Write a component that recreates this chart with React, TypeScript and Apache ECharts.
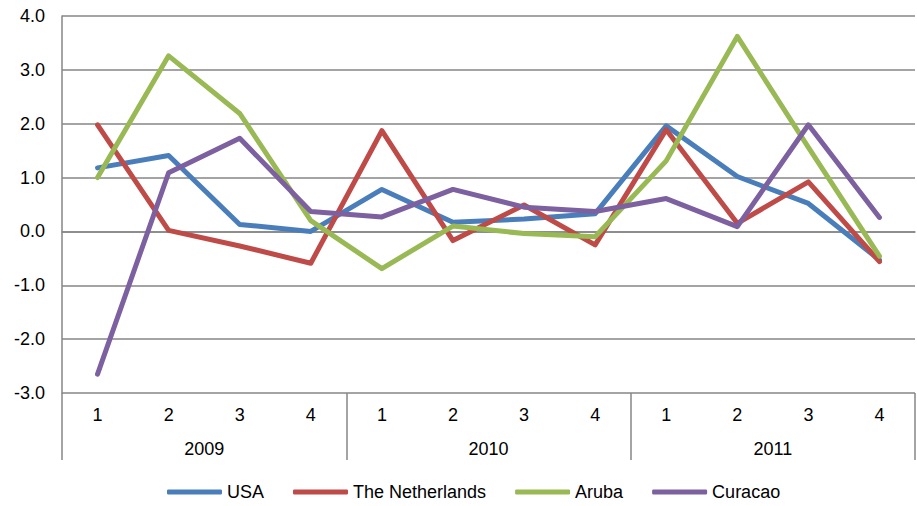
import React, { useEffect, useRef } from "react";
import * as echarts from "echarts";

const quarters = ["1", "2", "3", "4", "1", "2", "3", "4", "1", "2", "3", "4"];
const years = ["2009", "2010", "2011"];
const usa = [1.18, 1.41, 0.13, 0.0, 0.78, 0.17, 0.23, 0.33, 1.96, 1.02, 0.52, -0.53];
const netherlands = [1.98, 0.02, -0.27, -0.59, 1.87, -0.17, 0.49, -0.25, 1.89, 0.15, 0.92, -0.56];
const aruba = [1.0, 3.26, 2.19, 0.2, -0.69, 0.1, -0.04, -0.1, 1.31, 3.62, 1.56, -0.46];
const curacao = [-2.65, 1.09, 1.73, 0.37, 0.27, 0.78, 0.45, 0.37, 0.61, 0.09, 1.98, 0.26];
const seriesNames = ["USA", "The Netherlands", "Aruba", "Curacao"];
const colors = ["#4A7EBB", "#BE4B48", "#98B954", "#7D60A0"];

const FONT = "'Liberation Sans', Arial, sans-serif";
const GRAY = "#868686";

export default function App() {
  const ref = useRef<HTMLDivElement>(null);
  useEffect(() => {
    if (!ref.current) return;
    const chart = echarts.init(ref.current, undefined, { renderer: "svg" });
    const data = [usa, netherlands, aruba, curacao];
    chart.setOption({
      animation: false,
      color: colors,
      textStyle: { fontFamily: FONT },
      grid: { left: 62, right: 2, top: 16, bottom: 113, containLabel: false },
      legend: {
        left: 167,
        top: 483,
        padding: 0,
        itemWidth: 55,
        itemHeight: 5,
        itemGap: 29,
        icon: "roundRect",
        textStyle: { fontSize: 18, color: "#000", fontFamily: FONT },
        data: seriesNames,
      },
      xAxis: [
        {
          type: "category",
          data: quarters,
          position: "bottom",
          boundaryGap: true,
          axisLine: { show: true, lineStyle: { color: GRAY, width: 1.5 } },
          axisTick: { show: false },
          axisLabel: { interval: 0, margin: 13, fontSize: 18, color: "#000", fontFamily: FONT },
          splitLine: { show: false },
        },
        {
          type: "category",
          data: years,
          position: "bottom",
          offset: 0,
          boundaryGap: true,
          axisLine: { show: false },
          axisTick: { show: true, length: 67, interval: 0, lineStyle: { color: GRAY, width: 1.5 } },
          axisLabel: { interval: 0, margin: 47, fontSize: 18, color: "#000", fontFamily: FONT },
          splitLine: { show: false },
        },
      ],
      yAxis: {
        type: "value",
        min: -3,
        max: 4,
        interval: 1,
        axisLine: { show: true, lineStyle: { color: GRAY, width: 1.5 } },
        axisTick: { show: false },
        axisLabel: {
          margin: 17,
          fontSize: 18,
          color: "#000",
          fontFamily: FONT,
          formatter: (v: number) => v.toFixed(1),
        },
        splitLine: { show: true, lineStyle: { color: GRAY, width: 1.5 } },
      },
      series: data.map((d, i) => ({
        name: seriesNames[i],
        type: "line",
        xAxisIndex: 0,
        data: d,
        symbol: "none",
        showSymbol: false,
        lineStyle: { width: 5, color: colors[i], cap: "round", join: "round" },
        itemStyle: { color: colors[i] },
      })),
    });
    return () => chart.dispose();
  }, []);
  return (
    <div
      ref={ref}
      style={{ position: "fixed", left: 0, top: 0, width: 917, height: 506, background: "#fff" }}
    />
  );
}
